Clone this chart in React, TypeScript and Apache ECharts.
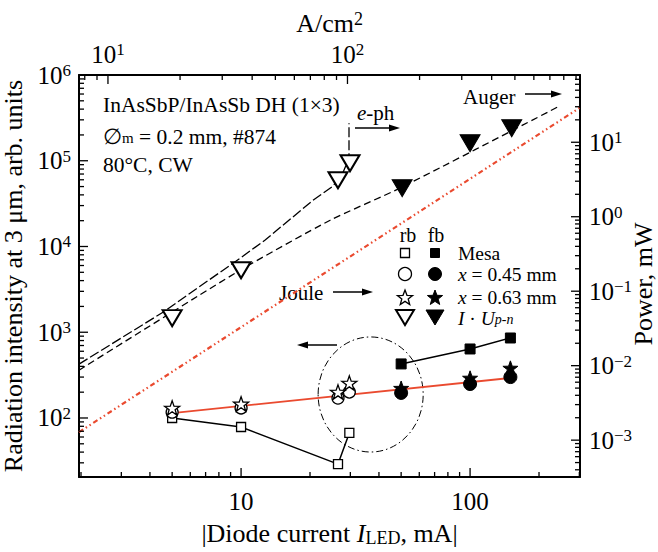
import React, { useEffect, useRef } from 'react';
import * as echarts from 'echarts';

const FONT = '"Liberation Serif", "Times New Roman", Times, serif';
const RED = '#ea4a2f';

// bottom axis: diode current, mA ; left axis: radiation intensity, arb. units
const mesaRbX = [5, 10, 26.5, 29.7];
const mesaRbY = [100, 78.5, 29, 67];
const mesaFbX = [50, 100, 150];
const mesaFbY = [427, 638, 857];
const c045RbX = [5, 10, 26.5, 29.7];
const c045RbY = [117, 131, 171, 201];
const c045FbX = [50, 100, 150];
const c045FbY = [196, 249, 300];
const c063RbX = [5, 10, 26.5, 29.7];
const c063RbY = [131, 146, 201, 256];
const c063FbX = [50, 100, 150];
const c063FbY = [223, 293, 383];
const fitX = [5, 150];
const fitY = [114, 293];
// right axis: power, mW
const iuRbX = [5, 10, 26.5, 29.9];
const iuRbY = [0.0435, 0.191, 3.09, 5.22];
const iuFbX = [50.5, 100, 152];
const iuFbY = [2.42, 9.7, 15.4];
const ephX = [1.96, 4.56, 9.9, 12.7, 20.6, 25.2, 27.9, 29.6, 29.6];
const ephY = [0.0105, 0.0522, 0.277, 0.484, 1.66, 2.57, 3.96, 6.1, 18];
const augerX = [1.96, 9.9, 24.5, 49.4, 240];
const augerY = [0.0087, 0.191, 0.897, 2.42, 29.5];
const jouleX = [1.96, 300];
const jouleY = [0.00128, 28.8];
// dash-dot ellipse around the rb points (bounds in data units, left axis)
const ellipseX = [21.7, 62.4];
const ellipseY = [40.1, 881];

// axis ranges
const xRange = [1.96, 302];
const topRange = [7.57, 935];
const yLeftRange = [20.5, 1e6];
const yRightRange = [3.2e-4, 80];

const pairs = (xs: number[], ys: number[]) => xs.map((x, i) => [x, ys[i]]);
const isPow10 = (v: number) => {
  const l = Math.log10(v);
  return Math.abs(l - Math.round(l)) < 1e-6;
};
const supLabel = (v: number) => {
  if (!isPow10(v)) return '';
  const e = Math.round(Math.log10(v));
  return `{b|10}{s|${e < 0 ? '\u2212' + -e : e}}`;
};
const majorTicks = (min: number, max: number) => {
  const out: number[] = [];
  for (let e = Math.floor(Math.log10(min)); e <= Math.ceil(Math.log10(max)); e++) {
    const v = Math.pow(10, e);
    if (v > min && v < max) out.push(v);
  }
  return out;
};
const minorTicks = (min: number, max: number) => {
  const out: number[] = [];
  for (let e = Math.floor(Math.log10(min)); e <= Math.ceil(Math.log10(max)); e++) {
    for (let m = 2; m <= 9; m++) {
      const v = m * Math.pow(10, e);
      if (v > min && v < max) out.push(v);
    }
  }
  return out;
};

const STAR = 'path://M0,-10 L2.35,-3.24 L9.51,-3.09 L3.8,1.24 L5.88,8.09 L0,4 L-5.88,8.09 L-3.8,1.24 L-9.51,-3.09 L-2.35,-3.24 Z';

const openStyle = { color: '#fff', borderColor: '#000', borderWidth: 1.3, opacity: 1 };
const fillStyle = { color: '#000', borderColor: '#000', borderWidth: 1, opacity: 1 };

const labelRich = {
  b: { fontSize: 25, fontFamily: FONT, color: '#000', lineHeight: 26 },
  s: { fontSize: 17, fontFamily: FONT, color: '#000', verticalAlign: 'top', lineHeight: 9 },
};

const mkRich = (fs: number) => ({
  a: { fontSize: fs, fontFamily: FONT, color: '#000', lineHeight: 16 },
  i: { fontSize: fs, fontFamily: FONT, color: '#000', fontStyle: 'italic', lineHeight: 16 },
  sub: { fontSize: Math.round(fs * 0.7), fontFamily: FONT, color: '#000', lineHeight: 4, verticalAlign: 'bottom' },
  isub: { fontSize: Math.round(fs * 0.7), fontFamily: FONT, color: '#000', fontStyle: 'italic', lineHeight: 4, verticalAlign: 'bottom' },
});

const txt = (x: number, y: number, text: string, fs = 21, rich = false, align = 'left') => ({
  type: 'text',
  x,
  y,
  style: {
    text,
    fontSize: fs,
    fontFamily: FONT,
    fill: '#000',
    align,
    textAlign: align,
    verticalAlign: 'middle',
    textVerticalAlign: 'middle',
    lineHeight: 16,
    rich: rich ? mkRich(fs) : undefined,
  },
});

const arrow = (x1: number, y: number, x2: number) => {
  const d = Math.sign(x2 - x1);
  const head = 11;
  return [
    { type: 'line', shape: { x1, y1: y, x2: x2 - d * head, y2: y }, style: { stroke: '#000', lineWidth: 1.5 } },
    {
      type: 'polygon',
      shape: { points: [[x2, y], [x2 - d * head, y - 3.5], [x2 - d * head, y + 3.5]] },
      style: { fill: '#000' },
    },
  ];
};

const starPts = (cx: number, cy: number, R: number) => {
  const pts: number[][] = [];
  for (let k = 0; k < 10; k++) {
    const r = k % 2 === 0 ? R : R * 0.42;
    const a = -Math.PI / 2 + (k * Math.PI) / 5;
    pts.push([cx + r * Math.cos(a), cy + r * Math.sin(a)]);
  }
  return pts;
};

const legendSymbols = (x: number, filled: boolean) => {
  const st = filled ? { fill: '#000', stroke: '#000', lineWidth: 1 } : { fill: '#fff', stroke: '#000', lineWidth: 1.3 };
  return [
    { type: 'rect', shape: { x: x - 4.5, y: 253 - 4.5, width: 9, height: 9 }, style: st },
    { type: 'circle', shape: { cx: x, cy: 274, r: 6.5 }, style: st },
    { type: 'polygon', shape: { points: starPts(x, 298, 8) }, style: st },
    {
      type: 'polygon',
      shape: { points: [[x - 9, 310], [x + 9, 310], [x, 325]] },
      style: filled ? st : { fill: '#fff', stroke: '#000', lineWidth: 2 },
    },
  ];
};

export default function App() {
  const ref = useRef<HTMLDivElement>(null);
  useEffect(() => {
    if (!ref.current) return;
    const chart = echarts.init(ref.current, null, { renderer: 'svg' });
    const axisLine = { show: true, onZero: false, lineStyle: { color: '#000', width: 2 } };
    const option: any = {
      animation: false,
      backgroundColor: '#fff',
      grid: { left: 79, right: 78, top: 75, bottom: 75, containLabel: false, outerBoundsMode: 'none' },
      xAxis: [
        {
          type: 'log',
          logBase: 10,
          min: xRange[0],
          max: xRange[1],
          position: 'bottom',
          axisLine,
          axisTick: { show: false },
          splitLine: { show: false },
          axisLabel: {
            formatter: (v: number) => (isPow10(v) && v >= 10 ? String(Math.round(v)) : ''),
            fontSize: 25,
            fontFamily: FONT,
            color: '#000',
            margin: 12,
          },
          name: '{n||Diode current }{i|I}{s|LED}{n|, mA|}',
          nameLocation: 'middle',
          nameGap: 43,
          nameTextStyle: {
            fontSize: 26,
            fontFamily: FONT,
            color: '#000',
            rich: {
              n: { fontSize: 26, fontFamily: FONT, color: '#000', lineHeight: 27 },
              i: { fontSize: 26, fontFamily: FONT, color: '#000', fontStyle: 'italic', lineHeight: 27 },
              s: { fontSize: 18, fontFamily: FONT, color: '#000', lineHeight: 10, verticalAlign: 'bottom' },
            },
          },
        },
        {
          type: 'log',
          logBase: 10,
          min: topRange[0],
          max: topRange[1],
          position: 'top',
          axisLine,
          axisTick: { show: false },
          splitLine: { show: false },
          axisLabel: { formatter: supLabel, rich: labelRich, margin: 8, fontFamily: FONT, color: '#000' },
          name: '{n|A/cm}{s|2}',
          nameLocation: 'middle',
          nameGap: 37,
          nameTextStyle: {
            fontSize: 26,
            fontFamily: FONT,
            color: '#000',
            rich: {
              n: { fontSize: 26, fontFamily: FONT, color: '#000', lineHeight: 27 },
              s: { fontSize: 18, fontFamily: FONT, color: '#000', lineHeight: 10, verticalAlign: 'top' },
            },
          },
        },
      ],
      yAxis: [
        {
          type: 'log',
          logBase: 10,
          min: yLeftRange[0],
          max: yLeftRange[1],
          position: 'left',
          axisLine,
          axisTick: { show: false },
          splitLine: { show: false },
          axisLabel: { formatter: supLabel, rich: labelRich, margin: 8, fontFamily: FONT, color: '#000' },
          name: 'Radiation intensity at 3 \u03bcm, arb. units',
          nameLocation: 'middle',
          nameGap: 47,
          nameTextStyle: { fontSize: 26, fontFamily: FONT, color: '#000' },
        },
        {
          type: 'log',
          logBase: 10,
          min: yRightRange[0],
          max: yRightRange[1],
          position: 'right',
          axisLine,
          axisTick: { show: false },
          splitLine: { show: false },
          axisLabel: { formatter: supLabel, rich: labelRich, margin: 9, fontFamily: FONT, color: '#000' },
        },
      ],
      series: [
        {
          name: 'Joule',
          type: 'line',
          yAxisIndex: 1,
          data: pairs(jouleX, jouleY),
          symbol: 'none',
          lineStyle: { color: RED, width: 2.2, type: [5, 3, 1.5, 3, 1.5, 3] },
          z: 3,
        },
        {
          name: 'Auger',
          type: 'line',
          yAxisIndex: 1,
          data: pairs(augerX, augerY),
          symbol: 'none',
          smooth: 0.2,
          lineStyle: { color: '#000', width: 1.3, type: [7, 4] },
          z: 3,
        },
        {
          name: 'e-ph',
          type: 'line',
          yAxisIndex: 1,
          data: pairs(ephX, ephY),
          symbol: 'none',
          lineStyle: { color: '#000', width: 1.3, type: [10, 3] },
          z: 3,
        },
        {
          name: 'fit',
          type: 'line',
          data: pairs(fitX, fitY),
          symbol: 'none',
          lineStyle: { color: RED, width: 1.8 },
          z: 3,
        },
        {
          name: 'Mesa rb',
          type: 'line',
          data: pairs(mesaRbX, mesaRbY),
          symbol: 'rect',
          symbolSize: 9,
          showSymbol: true,
          itemStyle: openStyle,
          lineStyle: { color: '#000', width: 1.5 },
          z: 4,
        },
        {
          name: 'Mesa fb',
          type: 'line',
          data: pairs(mesaFbX, mesaFbY),
          symbol: 'rect',
          symbolSize: 10,
          showSymbol: true,
          itemStyle: fillStyle,
          lineStyle: { color: '#000', width: 1.5 },
          z: 4,
        },
        { name: 'x045 rb', type: 'scatter', data: pairs(c045RbX, c045RbY), symbol: 'circle', symbolSize: 12, itemStyle: openStyle, z: 4 },
        { name: 'x045 fb', type: 'scatter', data: pairs(c045FbX, c045FbY), symbol: 'circle', symbolSize: 13, itemStyle: fillStyle, z: 4 },
        { name: 'x063 rb', type: 'scatter', data: pairs(c063RbX, c063RbY), symbol: STAR, symbolKeepAspect: true, symbolSize: 15, itemStyle: openStyle, z: 5 },
        { name: 'x063 fb', type: 'scatter', data: pairs(c063FbX, c063FbY), symbol: STAR, symbolKeepAspect: true, symbolSize: 15, itemStyle: fillStyle, z: 5 },
        {
          name: 'IU rb',
          type: 'scatter',
          yAxisIndex: 1,
          data: pairs(iuRbX, iuRbY),
          symbol: 'triangle',
          symbolRotate: 180,
          symbolSize: [19, 16],
          itemStyle: { color: '#fff', borderColor: '#000', borderWidth: 2, opacity: 1 },
          z: 5,
        },
        {
          name: 'IU fb',
          type: 'scatter',
          yAxisIndex: 1,
          data: pairs(iuFbX, iuFbY),
          symbol: 'triangle',
          symbolRotate: 180,
          symbolSize: [20, 17],
          itemStyle: fillStyle,
          z: 5,
        },
      ],
    };
    chart.setOption(option);

    const px = (axis: string, idx: number, v: number) =>
      chart.convertToPixel(axis === 'x' ? { xAxisIndex: idx } : { yAxisIndex: idx }, v) as number;

    const left = px('x', 0, xRange[0]);
    const right = px('x', 0, xRange[1]);
    const top = px('y', 0, yLeftRange[1]);
    const bottom = px('y', 0, yLeftRange[0]);

    const ticks: any[] = [];
    const tickLine = (x1: number, y1: number, x2: number, y2: number) =>
      ticks.push({ type: 'line', shape: { x1, y1, x2, y2 }, style: { stroke: '#000', lineWidth: 1.3 }, z: 10 });
    const addH = (idx: number, range: number[], edge: number, dir: number) => {
      majorTicks(range[0], range[1]).forEach((v) => { const x = px('x', idx, v); tickLine(x, edge, x, edge + dir * 9); });
      minorTicks(range[0], range[1]).forEach((v) => { const x = px('x', idx, v); tickLine(x, edge, x, edge + dir * 5); });
    };
    const addV = (idx: number, range: number[], edge: number, dir: number) => {
      majorTicks(range[0], range[1]).forEach((v) => { const y = px('y', idx, v); tickLine(edge, y, edge + dir * 9, y); });
      minorTicks(range[0], range[1]).forEach((v) => { const y = px('y', idx, v); tickLine(edge, y, edge + dir * 5, y); });
    };
    addH(0, xRange, bottom, -1);
    addH(1, topRange, top, 1);
    addV(0, yLeftRange, left, 1);
    addV(1, yRightRange, right, -1);

    const ex0 = px('x', 0, ellipseX[0]);
    const ex1 = px('x', 0, ellipseX[1]);
    const ey0 = px('y', 0, ellipseY[0]);
    const ey1 = px('y', 0, ellipseY[1]);

    const graphic: any[] = [
      ...ticks,
      {
        type: 'ellipse',
        shape: { cx: (ex0 + ex1) / 2, cy: (ey0 + ey1) / 2, rx: Math.abs(ex1 - ex0) / 2, ry: Math.abs(ey1 - ey0) / 2 },
        style: { fill: 'none', stroke: '#000', lineWidth: 1, lineDash: [7, 3, 1.5, 3] },
        z: 3,
      },
      {
        type: 'text',
        x: 643,
        y: 284,
        rotation: Math.PI / 2,
        style: {
          text: 'Power, mW',
          fontSize: 26,
          fontFamily: FONT,
          fill: '#000',
          align: 'center',
          textAlign: 'center',
          verticalAlign: 'middle',
          textVerticalAlign: 'middle',
        },
      },
      txt(103, 105, 'InAsSbP/InAsSb DH (1\u00d73)', 21.5),
      txt(103, 137, '{a|\u2205}{sub|m}{a| = 0.2 mm, #874}', 21.5, true),
      txt(103, 165, '80\u00b0C, CW', 21.5),
      txt(357, 113, '{i|e}{a|-ph}', 21, true),
      ...arrow(355, 128, 400),
      txt(463, 97, 'Auger', 21),
      ...arrow(525, 94, 562),
      txt(279, 293, 'Joule', 21),
      ...arrow(333, 292, 373),
      ...arrow(337, 345, 297),
      txt(408, 235, 'rb', 20, false, 'center'),
      txt(436, 235, 'fb', 20, false, 'center'),
      ...legendSymbols(405, false),
      ...legendSymbols(435, true),
      txt(458, 253, 'Mesa', 19.5),
      txt(458, 274, '{i|x}{a| = 0.45 mm}', 19.5, true),
      txt(458, 297, '{i|x}{a| = 0.63 mm}', 19.5, true),
      txt(458, 318, '{i|I}{a| \u00b7 }{i|U}{isub|p-n}', 19.5, true),
    ];
    chart.setOption({ graphic });
    return () => chart.dispose();
  }, []);
  return (
    <div
      ref={ref}
      style={{ position: 'fixed', left: 0, top: 0, width: 658, height: 552, background: '#fff' }}
    />
  );
}
